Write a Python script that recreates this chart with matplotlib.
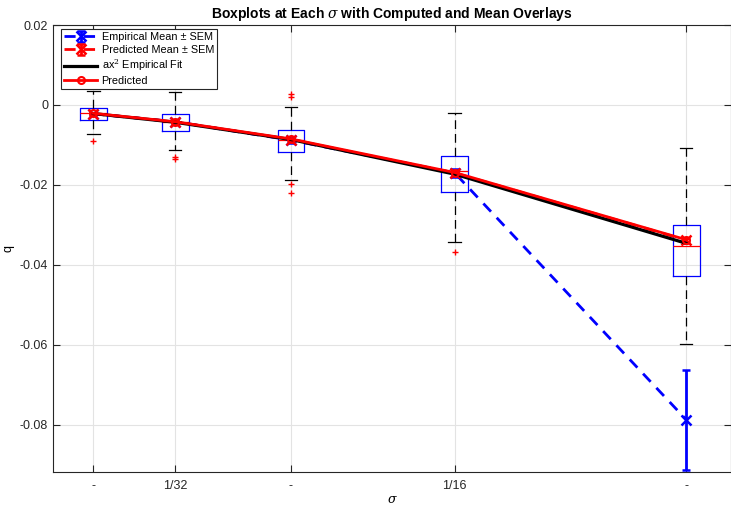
import numpy as np
import matplotlib
matplotlib.use("Agg")
import matplotlib.pyplot as plt

plt.rcParams['font.family'] = ['Liberation Sans', 'DejaVu Sans']
plt.rcParams['mathtext.fontset'] = 'dejavuserif'

# sigma values (1/(32*sqrt2), 1/32, sqrt2/32, 1/16, 2*sqrt2/32)
sigmas = [0.022097, 0.03125, 0.044194, 0.0625, 0.088388]
tick_labels = ['-', '1/32', '-', '1/16', '-']

# boxplot statistics
q1 = [-0.00375, -0.0064, -0.0117, -0.0217, -0.04275]
med = [-0.0021, -0.0042, -0.00875, -0.0165, -0.03525]
q3 = [-0.0008, -0.00225, -0.00625, -0.0127, -0.0299]
whislo = [-0.00725, -0.0113, -0.01875, -0.0342, -0.0598]
whishi = [0.0036, 0.0032, -0.0006, -0.0021, -0.0108]
fliers = [[-0.009], [-0.0129, -0.0136], [0.0027, 0.0021, -0.0198, -0.0219],
          [-0.0367], []]

emp_mean = [-0.0022, -0.0042, -0.0088, -0.0170, -0.0787]
emp_sem = [0.0003, 0.0004, 0.0006, 0.0009, 0.0125]
pred_mean = [-0.0022, -0.0042, -0.0087, -0.0170, -0.0338]
pred_sem = [0.0003, 0.0003, 0.0004, 0.0006, 0.0006]
fit_vals = [-0.00216, -0.00433, -0.00865, -0.0173, -0.0346]
pred_vals = [-0.0021, -0.0042, -0.0085, -0.0169, -0.0337]

fig = plt.figure(figsize=(7.31, 5.05), dpi=100)
ax = fig.add_axes([53 / 731, 1 - 472 / 505, 678 / 731, 447 / 505])

stats = []
for i in range(len(sigmas)):
    stats.append(dict(med=med[i], q1=q1[i], q3=q3[i], whislo=whislo[i],
                      whishi=whishi[i], fliers=fliers[i]))
ax.bxp(stats, positions=sigmas, widths=0.003, capwidths=0.0014,
       manage_ticks=False,
       boxprops=dict(color='blue', linewidth=0.9),
       medianprops=dict(color='red', linewidth=0.9),
       whiskerprops=dict(color='black', linestyle=(0, (7, 4)), linewidth=0.9),
       capprops=dict(color='black', linewidth=0.9),
       flierprops=dict(marker='+', markeredgecolor='red', markersize=5,
                       linestyle='none'))

emp = ax.errorbar(sigmas, emp_mean, yerr=emp_sem, color='blue',
                  linestyle='--', linewidth=2, marker='x', markersize=7,
                  markeredgewidth=1.8, capsize=3, capthick=2, dashes=(4, 3),
                  zorder=3)
pred = ax.errorbar(sigmas, pred_mean, yerr=pred_sem, color='red',
                   linestyle='--', linewidth=2, marker='x', markersize=7,
                   markeredgewidth=1.8, capsize=3, capthick=2, dashes=(4, 3),
                   zorder=3)
fit_line, = ax.plot(sigmas, fit_vals, color='black', linewidth=2.3, zorder=4)
pred_line, = ax.plot(sigmas, pred_vals, color='red', linewidth=2, marker='o',
                     markersize=5, markerfacecolor='none',
                     markeredgewidth=1.5, zorder=5)

ax.set_xlim(0.01758, 0.0934)
ax.set_ylim(-0.0918, 0.02)
ax.set_xticks(sigmas)
ax.set_xticklabels(tick_labels)
ax.set_yticks([0.02, 0, -0.02, -0.04, -0.06, -0.08])
ax.set_yticklabels(['0.02', '0', '-0.02', '-0.04', '-0.06', '-0.08'])
ax.grid(True, color='#e3e3e3', linewidth=0.8)
ax.set_axisbelow(True)
ax.tick_params(direction='in', top=True, right=True, labelsize=9,
               colors='#262626', length=5)
ax.tick_params(axis='x', pad=6)
for s in ax.spines.values():
    s.set_color('#262626')
    s.set_linewidth(0.8)

ax.set_title(r'Boxplots at Each $\sigma$ with Computed and Mean Overlays',
             fontsize=10, fontweight='bold', pad=5)
ax.set_xlabel(r'$\sigma$', fontsize=9, labelpad=1)
ax.set_ylabel('q', fontsize=9)

labels = ['Empirical Mean \u00b1 SEM', 'Predicted Mean \u00b1 SEM',
          r'ax$^2$ Empirical Fit', 'Predicted']
leg = ax.legend([emp, pred, fit_line, pred_line], labels, loc='upper left',
                fontsize=7.8, fancybox=False, edgecolor='#262626',
                framealpha=1, borderpad=0.3, labelspacing=0.25,
                handlelength=3.0, handletextpad=0.45, borderaxespad=0,
                bbox_to_anchor=(8 / 678, 1 - 4 / 447))
leg.get_frame().set_linewidth(0.8)

fig.savefig('out.png', dpi=100)
